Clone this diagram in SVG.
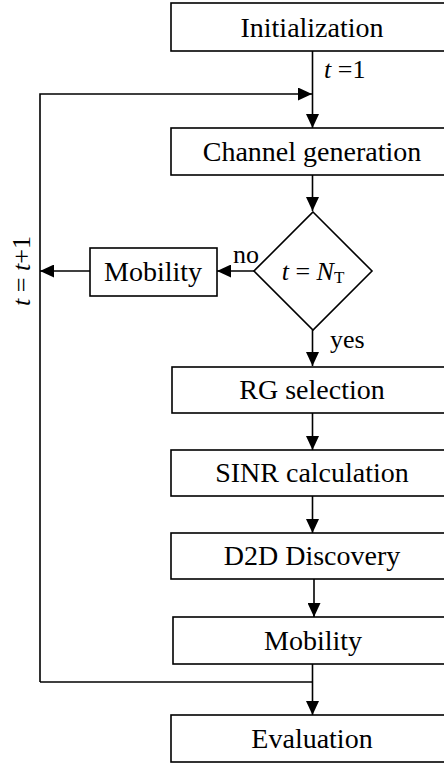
<svg xmlns="http://www.w3.org/2000/svg" width="444" height="764" viewBox="0 0 444 764">
<style>
.box{fill:#fff;stroke:#000;stroke-width:1.6}
.lbl{font-family:"Liberation Serif","Times New Roman",serif;font-size:28px;fill:#000;text-anchor:middle}
.sm{font-family:"Liberation Serif","Times New Roman",serif;font-size:26px;fill:#000}
.it{font-style:italic}
.ln{fill:none;stroke:#000;stroke-width:1.6}
</style>
<defs>
<marker id="ah" markerWidth="14" markerHeight="13" refX="14" refY="6.5" orient="auto" markerUnits="userSpaceOnUse">
<path d="M0,0 L14,6.5 L0,13 Z" fill="#000"/>
</marker>
</defs>
<g id="connectors">
<line class="ln" x1="312.5" y1="51" x2="312.5" y2="128" marker-end="url(#ah)"/>
<polyline class="ln" points="40,682 40,94 312,94" marker-end="url(#ah)"/>
<line class="ln" x1="312.5" y1="175" x2="312.5" y2="211" marker-end="url(#ah)"/>
<line class="ln" x1="312.5" y1="330" x2="312.5" y2="366" marker-end="url(#ah)"/>
<line class="ln" x1="254" y1="271" x2="217" y2="271" marker-end="url(#ah)"/>
<line class="ln" x1="90" y1="271" x2="40" y2="271" marker-end="url(#ah)"/>
<line class="ln" x1="312.5" y1="413" x2="312.5" y2="450" marker-end="url(#ah)"/>
<line class="ln" x1="312.5" y1="496" x2="312.5" y2="533" marker-end="url(#ah)"/>
<line class="ln" x1="314" y1="579" x2="314" y2="617" marker-end="url(#ah)"/>
<line class="ln" x1="312.5" y1="664" x2="312.5" y2="715" marker-end="url(#ah)"/>
<line class="ln" x1="40" y1="682" x2="312.5" y2="682"/>
<text class="sm" x="324" y="78"><tspan class="it">t</tspan> =1</text>
<text class="sm" x="233" y="263">no</text>
<text class="sm" x="330" y="348">yes</text>
<text class="sm" transform="translate(30,271) rotate(-90)" text-anchor="middle"><tspan class="it">t</tspan> = <tspan class="it">t</tspan>+1</text>
</g>
<g id="init"><rect class="box" x="171" y="3" width="284" height="48"/><text class="lbl" x="312" y="37">Initialization</text></g>
<g id="channel"><rect class="box" x="171" y="128" width="284" height="47"/><text class="lbl" x="312" y="161">Channel generation</text></g>
<g id="decision"><polygon class="box" points="313,212 372,271 313,330 254,271"/><text class="sm" x="313" y="280" text-anchor="middle"><tspan class="it">t</tspan> = <tspan class="it">N</tspan><tspan font-size="17" dy="3">T</tspan></text></g>
<g id="mobility1"><rect class="box" x="90" y="248" width="127" height="48"/><text class="lbl" x="153" y="281">Mobility</text></g>
<g id="rg"><rect class="box" x="172" y="367" width="283" height="46"/><text class="lbl" x="312" y="399">RG selection</text></g>
<g id="sinr"><rect class="box" x="171" y="450" width="284" height="46"/><text class="lbl" x="312" y="482">SINR calculation</text></g>
<g id="d2d"><rect class="box" x="171" y="533" width="284" height="46"/><text class="lbl" x="312" y="565">D2D Discovery</text></g>
<g id="mobility2"><rect class="box" x="173" y="617" width="282" height="47"/><text class="lbl" x="313" y="650">Mobility</text></g>
<g id="eval"><rect class="box" x="171" y="715" width="284" height="47"/><text class="lbl" x="312" y="748">Evaluation</text></g>
</svg>
